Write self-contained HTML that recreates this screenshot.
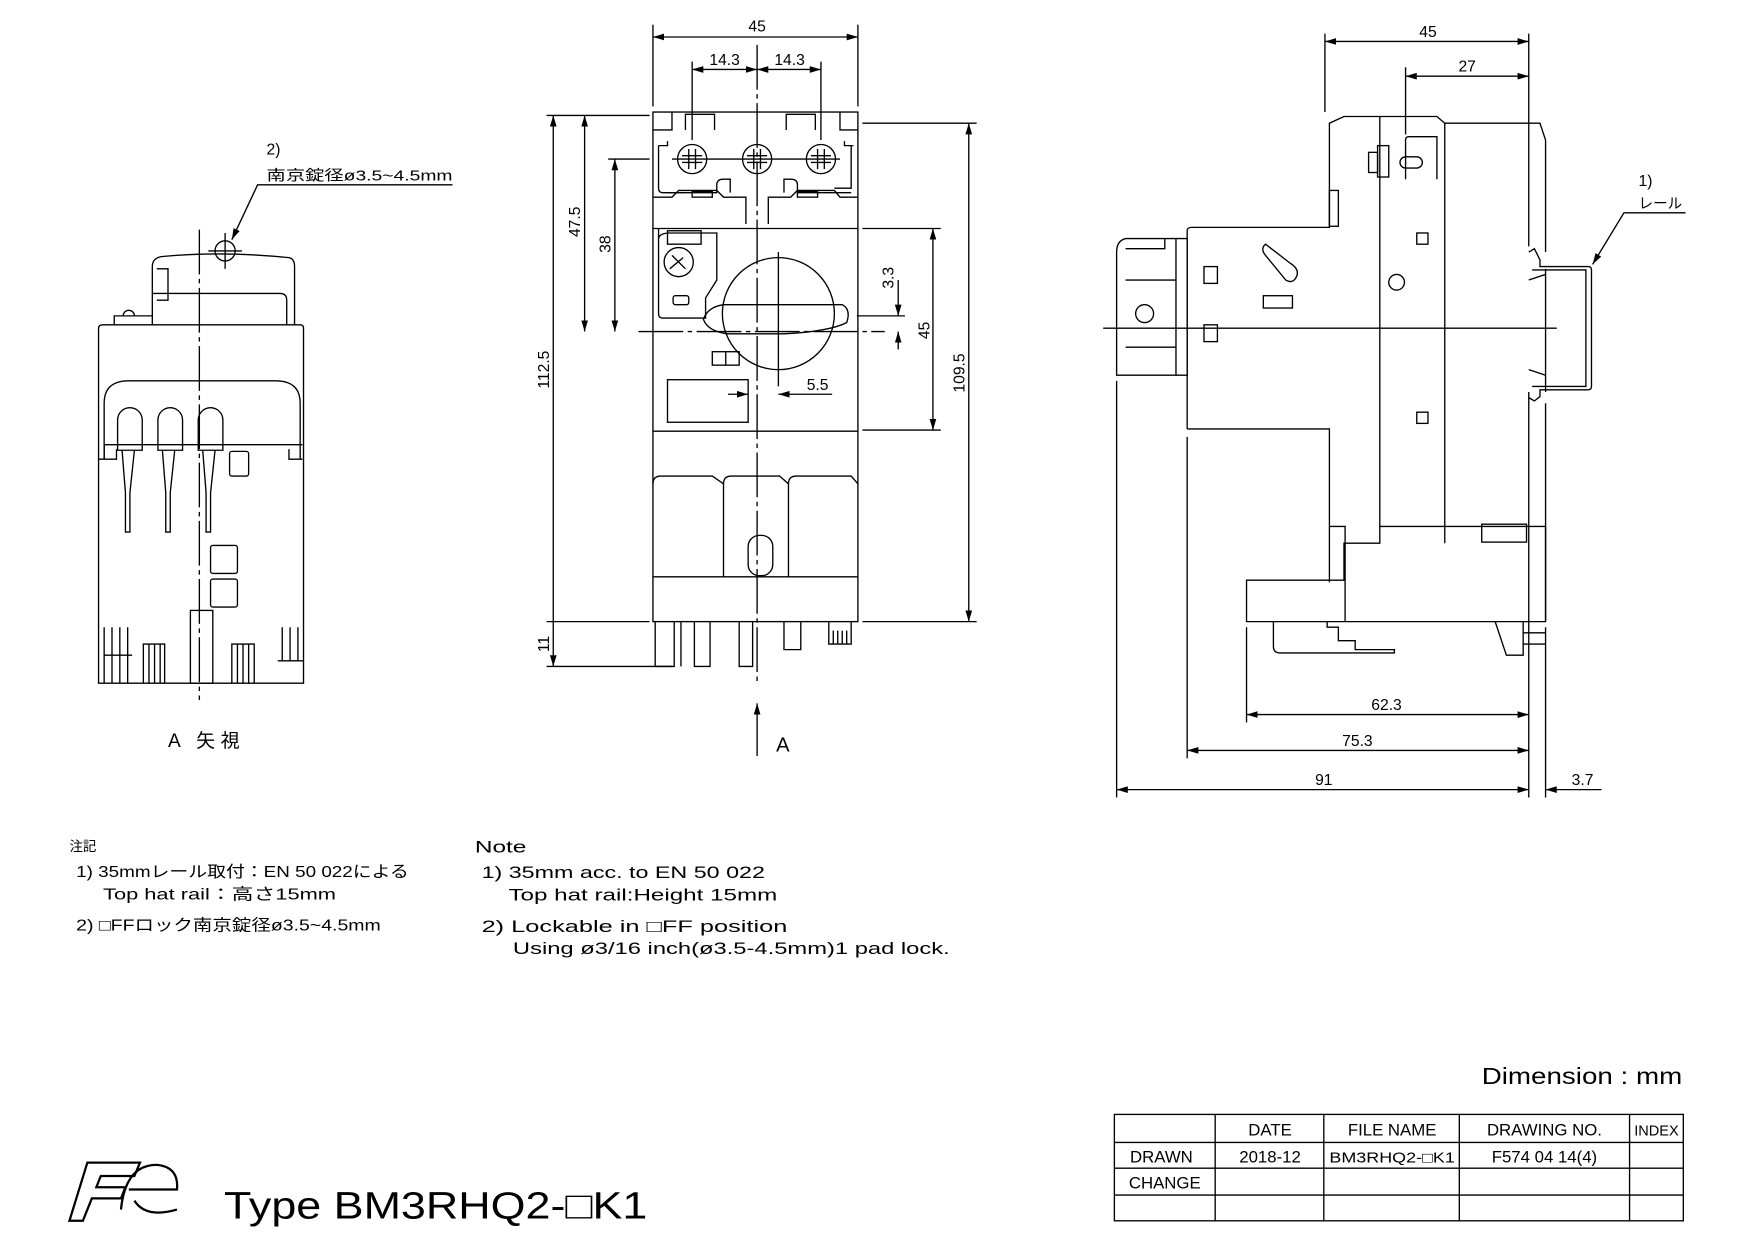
<!DOCTYPE html>
<html><head><meta charset="utf-8">
<style>
html,body{margin:0;padding:0;background:#fff;}
svg{display:block;}
text{font-family:"Liberation Sans","Noto Sans CJK JP",sans-serif;fill:#000;}
</style></head>
<body>
<svg width="1755" height="1241" viewBox="0 0 1567 1108" xmlns="http://www.w3.org/2000/svg">
<defs>
<marker id="a" viewBox="0 0 10 6" refX="10" refY="3" markerWidth="10" markerHeight="6" orient="auto-start-reverse" markerUnits="userSpaceOnUse"><path d="M0,0 L10,3 L0,6 z" fill="#000"/></marker>
</defs>
<g fill="none" stroke="#000" stroke-width="1.2">

<!-- ===== LEFT VIEW (A) ===== -->
<line x1="178" y1="205" x2="178" y2="625" stroke-dasharray="40,4,4,4"/>
<path d="M136,290 V238 Q136,230 145,229 Q200,224 258,230 Q263,231 263,238 V290"/>
<path d="M136,262 H250 Q256,262 256,268 V290"/>
<path d="M140,240 H150 V268 H140"/>
<path d="M102,290 V282 H136 M110,282 a5,5 0 1 1 10,0"/>
<circle cx="201" cy="224" r="9"/>
<line x1="186" y1="224" x2="216" y2="224"/><line x1="201" y1="208" x2="201" y2="240"/>
<path d="M88,610 V293 Q88,290 92,290 H268 Q271,290 271,293 V610 Z"/>
<path d="M93,410 V360 Q93,340 115,340 H246 Q268,340 268,360 V410"/>
<path d="M93,410 V397 H270 M88,410 H104 V401 M270,410 H258 V401"/>
<path d="M105,402 V375 a11,11 0 0 1 22,0 V402 Z M141,402 V375 a11,11 0 0 1 22,0 V402 Z M177,402 V375 a11,11 0 0 1 22,0 V402 Z"/>
<path d="M109,402 L112,440 V475 H116 V440 L120,402 M145,402 L148,440 V475 H152 V440 L156,402 M181,402 L184,440 V475 H188 V440 L192,402"/>
<rect x="205" y="403" width="17" height="22" rx="2"/>
<rect x="188" y="487" width="24" height="25" rx="2"/>
<rect x="188" y="517" width="24" height="25" rx="2"/>
<rect x="170" y="545" width="20" height="65"/>
<path d="M93,610 V560 M100,610 V560 V585 M107,610 V560 M114,560 V610 M93,585 H118"/>
<path d="M128,610 V575 H147 V610 M133,575 V610 M138,575 V610 M143,575 V610"/>
<path d="M207,610 V575 H227 V610 M212,575 V610 M217,575 V610 M222,575 V610"/>
<path d="M266,560 V590 M259,560 V590 M252,560 V590 M248,590 H271"/>

<!-- ===== FRONT VIEW ===== -->
<line x1="676" y1="40" x2="676" y2="610" stroke-dasharray="40,4,4,4"/>
<line x1="570" y1="296" x2="790" y2="296" stroke-dasharray="40,4,4,4"/>
<rect x="583" y="100" width="183" height="455"/>
<path d="M583,116 H600 V100 M766,116 H750 V100 M612,116 V102 H638 V116 M702,116 V102 H728 V116"/>
<path d="M588,130 H596 V126 M762,130 H754 V126 M588,130 V168 Q588,172 592,172 H610 M760,130 V168 H745"/>
<path d="M596,172 H640 V165 Q640,160 646,160 H652 V172 M700,172 V160 H706 Q712,160 712,165 V172 H760"/>
<circle cx="618" cy="142" r="13"/><circle cx="676" cy="142" r="13"/><circle cx="733" cy="142" r="13"/>
<path d="M615,133 V151 M621,133 V151 M609,139 H627 M609,145 H627 M673,133 V151 M679,133 V151 M667,139 H685 M667,145 H685 M730,133 V151 M736,133 V151 M724,139 H742 M724,145 H742"/>
<line x1="600" y1="142" x2="750" y2="142"/>
<path d="M583,176 H600 L606,170 H640 L646,176 H666 V200 M686,200 V176 H706 L712,170 H745 L750,176 H766"/>
<rect x="618" y="171" width="18" height="5"/><rect x="712" y="171" width="18" height="5"/>
<line x1="583" y1="204" x2="766" y2="204"/>
<path d="M588,204 V280 Q588,284 592,284 H630 V266 L640,250 V208 H598 Q588,208 588,214"/>
<rect x="596" y="206" width="30" height="12"/>
<circle cx="606" cy="234" r="13"/>
<path d="M600,228 L612,240 M598,240 L610,230"/>
<rect x="601" y="264" width="14" height="8" rx="2"/>
<circle cx="695" cy="280" r="50"/>
<path d="M628,285 Q632,274 646,272 H752 Q760,276 756,288 Q740,296 700,298 H650 Q632,296 628,285 Z"/>
<line x1="695" y1="225" x2="695" y2="345"/>
<rect x="636" y="314" width="24" height="12"/><line x1="648" y1="314" x2="648" y2="326"/>
<rect x="596" y="339" width="72" height="38"/>
<line x1="583" y1="385" x2="766" y2="385"/>
<path d="M583,432 Q583,425 590,425 H636 L646,432 V515 M646,432 Q646,425 653,425 H696 L704,432 V515 M704,432 Q704,425 711,425 H760 L766,432"/>
<rect x="668" y="478" width="22" height="36" rx="10"/>
<line x1="583" y1="515" x2="766" y2="515"/>
<path d="M585,555 V595 H602 V555 M608,555 V595 M620,555 V595 H634 V555 M660,555 V595 H672 V555 M700,555 V580 H715 V555 M740,555 V575 H760 V555 M744,575 V563 M748,575 V563 M752,575 V563 M756,575 V563"/>
<!-- front dims -->
<line x1="583" y1="95" x2="583" y2="22"/><line x1="766" y1="95" x2="766" y2="22"/>
<line x1="583" y1="33" x2="766" y2="33" marker-start="url(#a)" marker-end="url(#a)"/>
<line x1="618" y1="125" x2="618" y2="55"/><line x1="733" y1="125" x2="733" y2="55"/>
<line x1="618" y1="62" x2="676" y2="62" marker-start="url(#a)" marker-end="url(#a)"/>
<line x1="676" y1="62" x2="733" y2="62" marker-start="url(#a)" marker-end="url(#a)"/>
<line x1="580" y1="103" x2="488" y2="103"/>
<line x1="494" y1="103" x2="494" y2="595" marker-start="url(#a)" marker-end="url(#a)"/>
<line x1="580" y1="142" x2="543" y2="142"/>
<line x1="522" y1="103" x2="522" y2="296" marker-start="url(#a)" marker-end="url(#a)"/>
<line x1="549" y1="142" x2="549" y2="296" marker-start="url(#a)" marker-end="url(#a)"/>
<line x1="488" y1="555" x2="580" y2="555"/><line x1="488" y1="595" x2="600" y2="595"/>
<line x1="770" y1="204" x2="840" y2="204"/><line x1="770" y1="384" x2="840" y2="384"/>
<line x1="833" y1="204" x2="833" y2="384" marker-start="url(#a)" marker-end="url(#a)"/>
<line x1="770" y1="110" x2="872" y2="110"/><line x1="770" y1="555" x2="872" y2="555"/>
<line x1="865" y1="110" x2="865" y2="555" marker-start="url(#a)" marker-end="url(#a)"/>
<line x1="765" y1="282" x2="808" y2="282"/>
<line x1="802" y1="250" x2="802" y2="282" marker-end="url(#a)"/>
<line x1="802" y1="312" x2="802" y2="296" marker-end="url(#a)"/>
<line x1="650" y1="352" x2="668" y2="352" marker-end="url(#a)"/>
<line x1="743" y1="352" x2="695" y2="352" marker-end="url(#a)"/>
<line x1="676" y1="675" x2="676" y2="628" marker-end="url(#a)"/>

<!-- ===== RIGHT VIEW ===== -->
<line x1="985" y1="293" x2="1390" y2="293"/>
<path d="M997,335 V225 Q997,215 1005,213 H1050 V335 Z"/>
<path d="M1005,222 H1040 V213 M1050,213 H1060 V335 H1050 M1005,250 H1050 M1005,310 H1050"/>
<circle cx="1022" cy="280" r="8"/>
<path d="M1060,383 V206 Q1060,203 1064,203 H1187 V110 L1200,104 H1232 V485 H1200 V518 H1113 V555 H1380 V470 H1290 V485"/>
<path d="M1232,104 H1283 L1290,110 H1375 L1380,125 V225 M1380,240 V350 M1380,360 V555"/>
<path d="M1060,383 H1187 V470 H1201 V555 M1187,383 V520"/>
<path d="M1290,110 V470 H1232"/>
<rect x="1187" y="170" width="8" height="32"/>
<rect x="1075" y="238" width="12" height="15"/><rect x="1075" y="290" width="12" height="15"/>
<path d="M1130,218 Q1125,222 1130,228 L1148,250 Q1155,254 1158,246 Q1160,240 1152,235 Z"/>
<rect x="1128" y="264" width="26" height="11"/>
<rect x="1265" y="208" width="10" height="10"/><rect x="1265" y="368" width="10" height="10"/>
<circle cx="1247" cy="252" r="7"/>
<rect x="1222" y="136" width="8" height="18"/><rect x="1230" y="130" width="10" height="28"/><rect x="1250" y="140" width="20" height="10" rx="5"/>
<path d="M1255,160 V125 Q1255,122 1258,122 H1283 V160"/>
<path d="M1365,225 L1370,222 L1375,232 V238 H1418 Q1421,238 1421,241 V345 Q1421,348 1418,348 H1375 V354 L1370,358 L1365,355"/>
<path d="M1368,241 H1416 V345 H1368"/>
<path d="M1365,250 L1380,245 M1365,330 L1380,335"/>
<rect x="1323" y="468" width="40" height="16"/>
<path d="M1137,555 V577 Q1137,583 1143,583 H1245 V580 H1210 V572 H1195 V560 H1185 V555"/>
<path d="M1335,555 L1345,585 H1360 V555 M1360,565 H1380 M1360,575 H1380"/>
<!-- right dims -->
<line x1="1183" y1="100" x2="1183" y2="30"/><line x1="1365" y1="220" x2="1365" y2="30"/>
<line x1="1183" y1="37" x2="1365" y2="37" marker-start="url(#a)" marker-end="url(#a)"/>
<line x1="1255" y1="120" x2="1255" y2="60"/>
<line x1="1255" y1="68" x2="1365" y2="68" marker-start="url(#a)" marker-end="url(#a)"/>
<line x1="1365" y1="350" x2="1365" y2="712"/><line x1="1380" y1="560" x2="1380" y2="712"/>
<line x1="997" y1="340" x2="997" y2="712"/><line x1="1060" y1="390" x2="1060" y2="677"/>
<line x1="1113" y1="560" x2="1113" y2="645"/>
<line x1="1113" y1="638" x2="1365" y2="638" marker-start="url(#a)" marker-end="url(#a)"/>
<line x1="1060" y1="670" x2="1365" y2="670" marker-start="url(#a)" marker-end="url(#a)"/>
<line x1="997" y1="705" x2="1365" y2="705" marker-start="url(#a)" marker-end="url(#a)"/>
<line x1="1430" y1="705" x2="1380" y2="705" marker-end="url(#a)"/>
<path d="M1505,190 H1450 L1422,236" marker-end="url(#a)"/>
<path d="M404,165 H230 L207,214" marker-end="url(#a)"/>

<!-- title block -->
<rect x="995" y="995" width="508" height="95"/>
<path d="M995,1020 H1503 M995,1043 H1503 M995,1067 H1503 M1085,995 V1090 M1182,995 V1090 M1303,995 V1090 M1455,995 V1090"/>
</g>

<g font-size="14">
<text x="676" y="28" text-anchor="middle">45</text>
<text x="647" y="58" text-anchor="middle">14.3</text>
<text x="705" y="58" text-anchor="middle">14.3</text>
<text transform="translate(490,330) rotate(-90)" text-anchor="middle">112.5</text>
<text transform="translate(518,198) rotate(-90)" text-anchor="middle">47.5</text>
<text transform="translate(545,218) rotate(-90)" text-anchor="middle">38</text>
<text transform="translate(490,575) rotate(-90)" text-anchor="middle">11</text>
<text transform="translate(830,295) rotate(-90)" text-anchor="middle">45</text>
<text transform="translate(861,333) rotate(-90)" text-anchor="middle">109.5</text>
<text transform="translate(798,248) rotate(-90)" text-anchor="middle">3.3</text>
<text x="730" y="348" text-anchor="middle">5.5</text>
<text x="1275" y="33" text-anchor="middle">45</text>
<text x="1310" y="64" text-anchor="middle">27</text>
<text x="1238" y="634" text-anchor="middle">62.3</text>
<text x="1212" y="666" text-anchor="middle">75.3</text>
<text x="1182" y="701" text-anchor="middle">91</text>
<text x="1413" y="701" text-anchor="middle">3.7</text>
<text x="1463" y="166">1)</text>
<text x="1463" y="186" font-size="13">レール</text>
<text x="238" y="138">2)</text>
<text x="238" y="161" font-size="13" textLength="166" lengthAdjust="spacingAndGlyphs">南京錠径ø3.5~4.5mm</text>
</g>
<text x="693" y="671" font-size="18">A</text>
<text x="150" y="667" font-size="17" textLength="64" lengthAdjust="spacing">A 矢視</text>

<g font-size="15">
<text x="62" y="760" font-size="12">注記</text>
<text x="68" y="783" font-size="14" textLength="297" lengthAdjust="spacingAndGlyphs">1) 35mmレール取付：EN 50 022による</text>
<text x="92" y="803" font-size="14" textLength="208" lengthAdjust="spacingAndGlyphs">Top hat rail：高さ15mm</text>
<text x="68" y="831" font-size="14" textLength="272" lengthAdjust="spacingAndGlyphs">2) □FFロック南京錠径ø3.5~4.5mm</text>
<text x="424" y="761" textLength="46" lengthAdjust="spacingAndGlyphs">Note</text>
<text x="430" y="784" textLength="253" lengthAdjust="spacingAndGlyphs">1) 35mm acc. to EN 50 022</text>
<text x="454" y="804" textLength="240" lengthAdjust="spacingAndGlyphs">Top hat rail:Height 15mm</text>
<text x="430" y="832" textLength="273" lengthAdjust="spacingAndGlyphs">2) Lockable in □FF position</text>
<text x="458" y="852" textLength="390" lengthAdjust="spacingAndGlyphs">Using ø3/16 inch(ø3.5-4.5mm)1 pad lock.</text>
</g>

<text x="1323" y="968" font-size="21" textLength="179" lengthAdjust="spacingAndGlyphs">Dimension : mm</text>
<g font-size="15" text-anchor="middle">
<text x="1134" y="1014">DATE</text>
<text x="1243" y="1014">FILE NAME</text>
<text x="1379" y="1014">DRAWING NO.</text>
<text x="1479" y="1014" font-size="13">INDEX</text>
<text x="1037" y="1038">DRAWN</text>
<text x="1134" y="1038">2018-12</text>
<text x="1243" y="1038" font-size="13" textLength="112" lengthAdjust="spacingAndGlyphs">BM3RHQ2-□K1</text>
<text x="1379" y="1038">F574 04 14(4)</text>
<text x="1040" y="1061">CHANGE</text>
</g>

<g fill="none" stroke="#000" stroke-width="2">
<path d="M78,1038 H125 L120,1050 H90 L86,1060 H112 L108,1070 H82 L74,1090 H62 Z"/>
<path d="M108,1080 Q112,1040 140,1040 Q160,1042 158,1062 H115 M120,1072 Q130,1088 158,1080"/>
</g>
<text x="200" y="1088" font-size="34" textLength="378" lengthAdjust="spacingAndGlyphs">Type BM3RHQ2-□K1</text>
</svg>
</body></html>
